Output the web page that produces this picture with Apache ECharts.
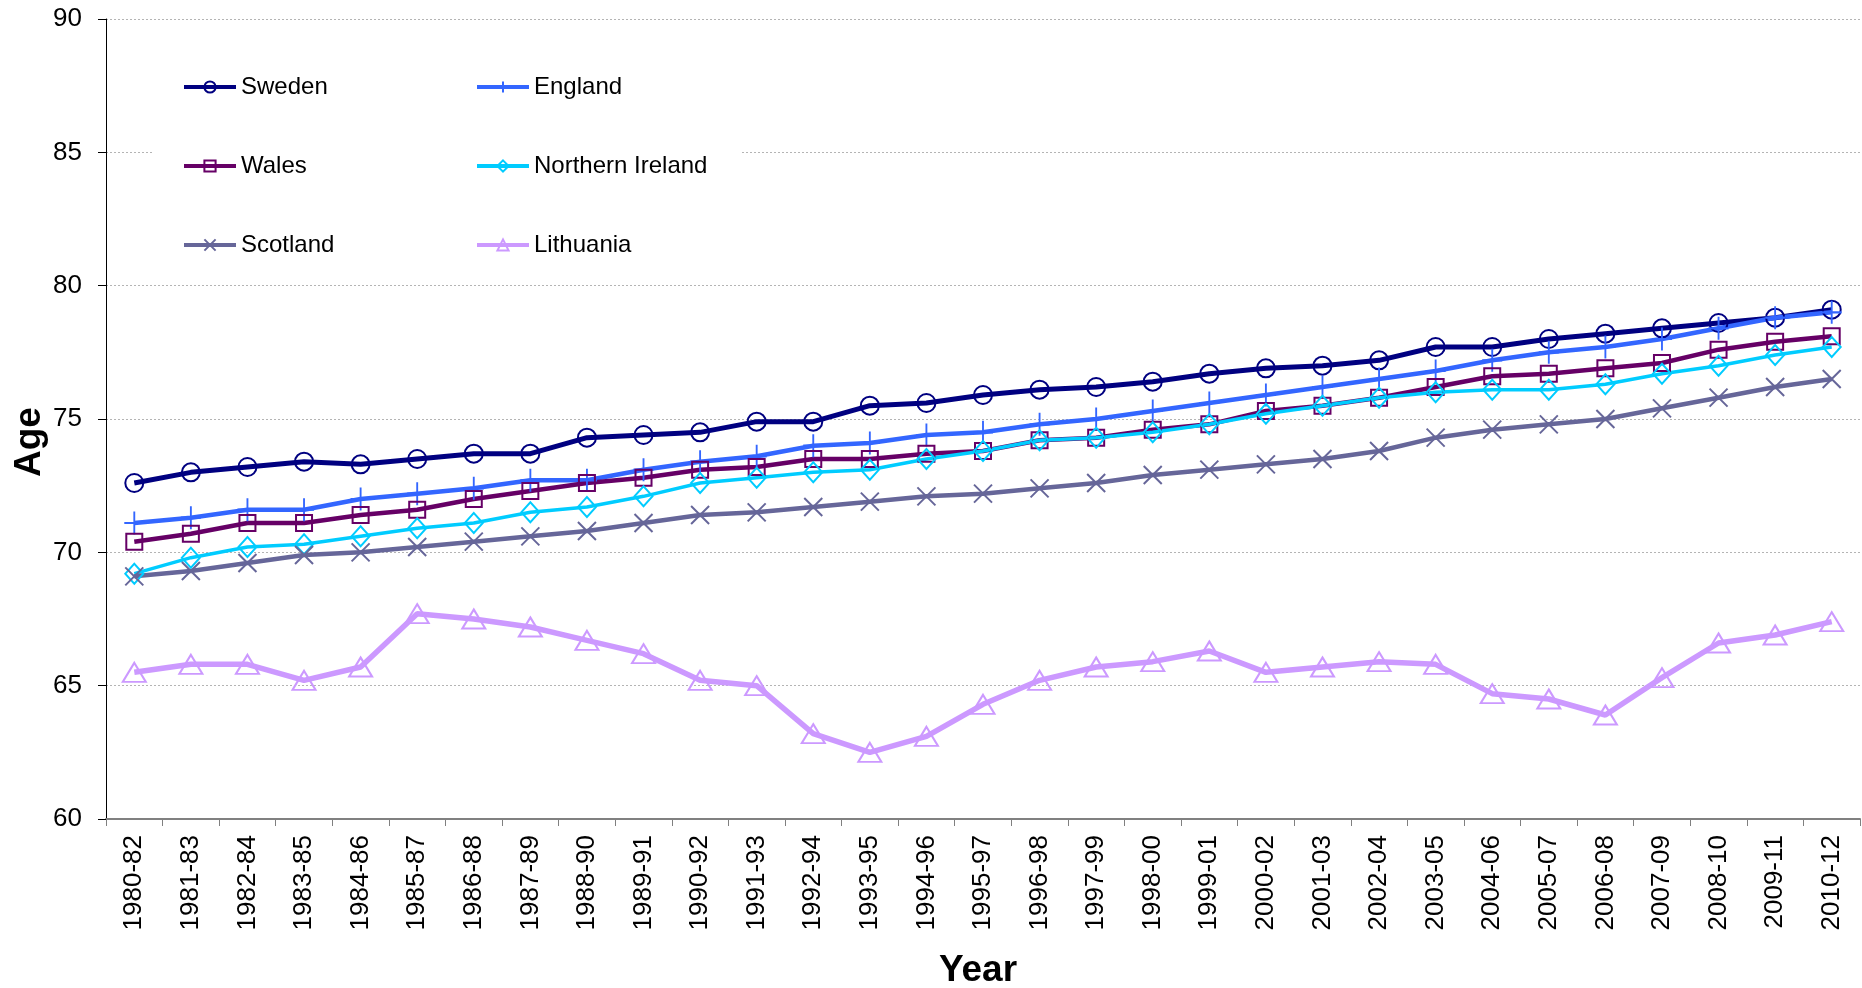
<!DOCTYPE html>
<html>
<head>
<meta charset="utf-8">
<script src="https://cdn.jsdelivr.net/npm/echarts@6/dist/echarts.min.js"></script>
<style>
html,body{margin:0;padding:0;background:#fff;}
#chart{width:1862px;height:988px;}
</style>
</head>
<body>
<div id="chart"></div>
<script>
var categories = ['1980-82','1981-83','1982-84','1983-85','1984-86','1985-87','1986-88','1987-89','1988-90','1989-91','1990-92','1991-93','1992-94','1993-95','1994-96','1995-97','1996-98','1997-99','1998-00','1999-01','2000-02','2001-03','2002-04','2003-05','2004-06','2005-07','2006-08','2007-09','2008-10','2009-11','2010-12'];
var sweden = [72.6,73.0,73.2,73.4,73.3,73.5,73.7,73.7,74.3,74.4,74.5,74.9,74.9,75.5,75.6,75.9,76.1,76.2,76.4,76.7,76.9,77.0,77.2,77.7,77.7,78.0,78.2,78.4,78.6,78.8,79.1];
var england = [71.1,71.3,71.6,71.6,72.0,72.2,72.4,72.7,72.7,73.1,73.4,73.6,74.0,74.1,74.4,74.5,74.8,75.0,75.3,75.6,75.9,76.2,76.5,76.8,77.2,77.5,77.7,78.0,78.4,78.8,79.0];
var wales = [70.4,70.7,71.1,71.1,71.4,71.6,72.0,72.3,72.6,72.8,73.1,73.2,73.5,73.5,73.7,73.8,74.2,74.3,74.6,74.8,75.3,75.5,75.8,76.2,76.6,76.7,76.9,77.1,77.6,77.9,78.1];
var northernIreland = [69.2,69.8,70.2,70.3,70.6,70.9,71.1,71.5,71.7,72.1,72.6,72.8,73.0,73.1,73.5,73.8,74.2,74.3,74.5,74.8,75.2,75.5,75.8,76.0,76.1,76.1,76.3,76.7,77.0,77.4,77.7];
var scotland = [69.1,69.3,69.6,69.9,70.0,70.2,70.4,70.6,70.8,71.1,71.4,71.5,71.7,71.9,72.1,72.2,72.4,72.6,72.9,73.1,73.3,73.5,73.8,74.3,74.6,74.8,75.0,75.4,75.8,76.2,76.5];
var lithuania = [65.5,65.8,65.8,65.2,65.7,67.7,67.5,67.2,66.7,66.2,65.2,65.0,63.2,62.5,63.1,64.3,65.2,65.7,65.9,66.3,65.5,65.7,65.9,65.8,64.7,64.5,63.9,65.3,66.6,66.9,67.4];
var yTicks = [60,65,70,75,80,85,90];

var FONT = 'Arial, "Liberation Sans", sans-serif';
var PLUS = 'path://M10,0 L10,20 M0,10 L20,10';
var CROSS = 'path://M0,0 L20,20 M20,0 L0,20';

function mk(name, data, color, symbol, size, lw) {
  return {
    name: name, type: 'line', data: data,
    symbol: symbol, symbolSize: size,
    lineStyle: {color: color, width: lw},
    itemStyle: {color: 'rgba(255,255,255,0)', borderColor: color, borderWidth: 2},
    emphasis: {disabled: true},
    animation: false
  };
}

var chart = echarts.init(document.getElementById('chart'), null, {renderer: 'canvas'});
function legendAt(name, left, top) {
  return {
    data: [name], left: left, top: top, padding: 0,
    itemWidth: 52, itemHeight: 14, itemGap: 0,
    lineStyle: {width: 4},
    textStyle: {fontFamily: FONT, fontSize: 24, color: '#000'},
    selectedMode: false
  };
}
chart.setOption({
  backgroundColor: '#fff',
  grid: {left: 106, right: 2, top: 19, bottom: 169, containLabel: false, outerBoundsMode: 'none'},
  legend: [
    legendAt('Sweden', 182, 75),
    legendAt('England', 475, 75),
    legendAt('Wales', 182, 154),
    legendAt('Northern Ireland', 475, 154),
    legendAt('Scotland', 182, 233),
    legendAt('Lithuania', 475, 233)
  ],
  graphic: [
    {type: 'rect', z: 1, silent: true, shape: {x: 152, y: 40, width: 590, height: 235}, style: {fill: '#fff'}},
    {type: 'text', z: 5, x: 30, y: 442, rotation: Math.PI / 2,
     style: {text: 'Age', fontFamily: FONT, fontSize: 37, fontWeight: 'bold', fill: '#000', align: 'center', verticalAlign: 'middle'}}
  ],
  xAxis: {
    type: 'category', data: categories, boundaryGap: true,
    name: 'Year', nameLocation: 'middle', nameGap: 133,
    nameTextStyle: {fontFamily: FONT, fontSize: 37, fontWeight: 'bold', color: '#000', padding: [0, 10, 0, 0]},
    axisLine: {lineStyle: {color: '#808080', width: 2}},
    axisTick: {show: true, alignWithLabel: false, length: 7, lineStyle: {color: '#808080', width: 1}},
    axisLabel: {rotate: 90, margin: 16, fontFamily: FONT, fontSize: 26, color: '#000', interval: 0},
    splitLine: {show: false}
  },
  yAxis: {
    type: 'value', min: yTicks[0], max: yTicks[yTicks.length - 1], interval: 5,
    axisLine: {show: true, lineStyle: {color: '#000', width: 1}},
    axisTick: {show: true, length: 8, lineStyle: {color: '#000'}},
    axisLabel: {margin: 24, fontFamily: FONT, fontSize: 26, color: '#000'},
    splitLine: {show: true, lineStyle: {color: '#b4b4b4', width: 1, type: [2, 2]}}
  },
  series: [
    mk('Sweden', sweden, '#000080', 'circle', 18, 5),
    mk('England', england, '#3366FF', PLUS, [20, 23], 4.5),
    mk('Wales', wales, '#660066', 'rect', 16, 4.5),
    mk('Northern Ireland', northernIreland, '#00CCFF', 'diamond', [18, 20], 3.5),
    mk('Scotland', scotland, '#666699', CROSS, 18, 4.5),
    mk('Lithuania', lithuania, '#CC99FF', 'triangle', [23, 19], 5.5)
  ]
});
</script>
</body>
</html>
